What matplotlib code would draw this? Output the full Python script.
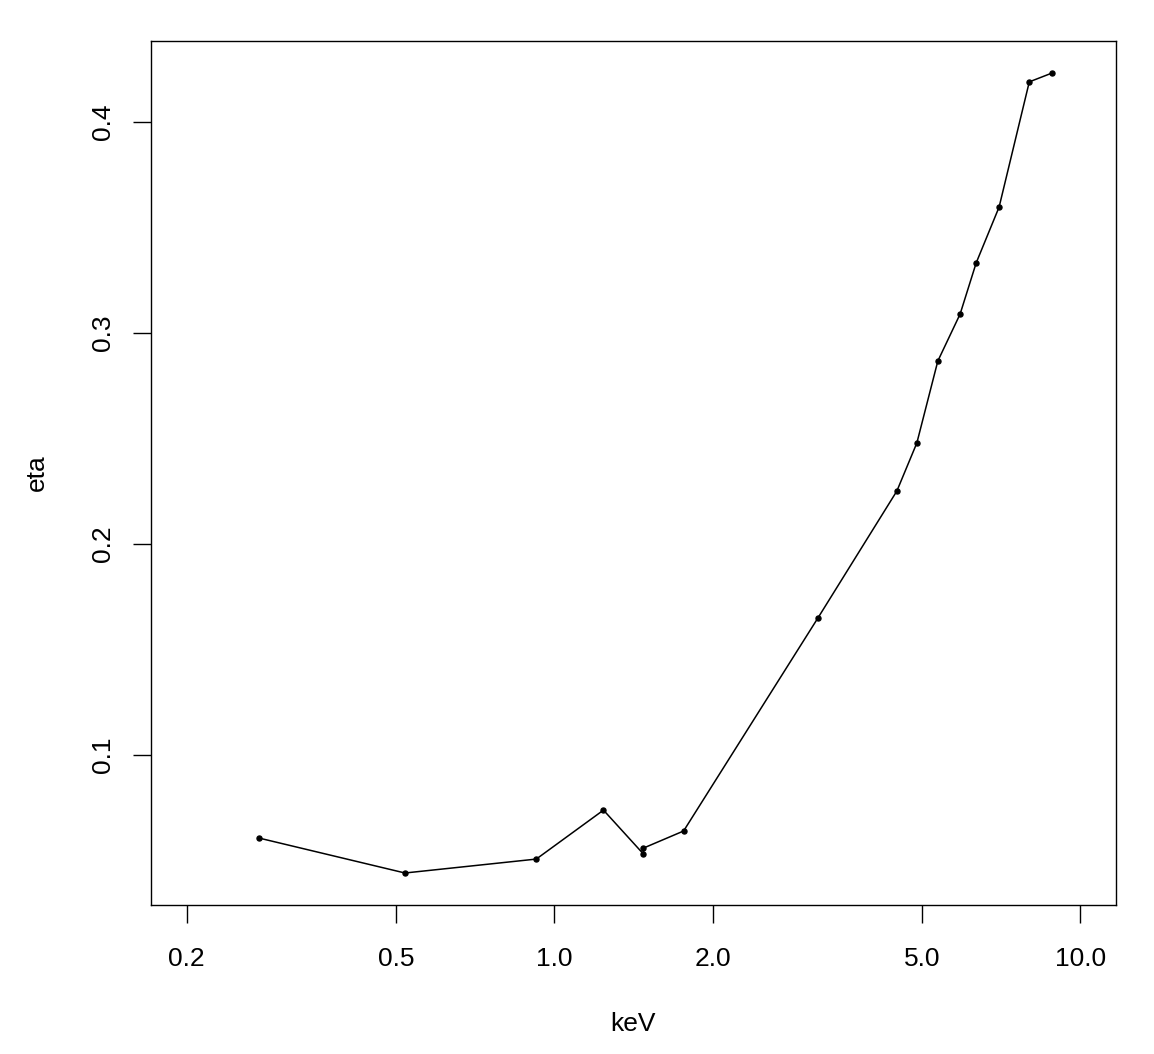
import matplotlib
matplotlib.use("Agg")
import matplotlib.pyplot as plt
import numpy as np

plt.rcParams['font.family'] = ['Liberation Sans', 'DejaVu Sans']

# energies (keV) and eta values
kev = [0.274, 0.520, 0.924, 1.240, 1.477, 1.477, 1.761, 3.17, 4.48, 4.89,
       5.36, 5.91, 6.34, 7.01, 8.00, 8.84]
eta = [0.0607, 0.0441, 0.0507, 0.0739, 0.0531, 0.0559, 0.0640, 0.1649, 0.2251,
       0.2479, 0.2867, 0.3090, 0.3332, 0.3597, 0.4190, 0.4232]

xticks = [0.2, 0.5, 1.0, 2.0, 5.0, 10.0]
xlabels = ["0.2", "0.5", "1.0", "2.0", "5.0", "10.0"]
yticks = [0.1, 0.2, 0.3, 0.4]
ylabels = ["0.1", "0.2", "0.3", "0.4"]

W, H = 1154, 1054
fig = plt.figure(figsize=(W / 100, H / 100), dpi=100)
ax = fig.add_axes([151 / W, 1 - 905 / H, (1116 - 151) / W, (905 - 41) / H])

ax.plot(kev, eta, color='black', lw=1.1, marker='o', ms=3.6)

ax.set_xscale('log')
# R style: 4% padding on each side
lx = np.log10([0.2, 10.0])
dx = 0.04 * (lx[1] - lx[0])
ax.set_xlim(10 ** (lx[0] - dx), 10 ** (lx[1] + dx))
dy = 0.04 * (max(eta) - min(eta))
ax.set_ylim(min(eta) - dy, max(eta) + dy)

ax.set_xticks(xticks)
ax.set_xticklabels(xlabels)
ax.xaxis.set_minor_locator(matplotlib.ticker.NullLocator())
ax.set_yticks(yticks)
ax.set_yticklabels(ylabels, rotation=90, va='center')

ax.tick_params(axis='both', direction='out', length=13, width=1.0,
               labelsize=19, color='black')
ax.tick_params(axis='x', pad=17)
ax.tick_params(axis='y', pad=13)
for s in ax.spines.values():
    s.set_linewidth(1.0)

ax.set_xlabel("keV", fontsize=19, va='center')
ax.xaxis.set_label_coords(0.5, (905 - 1024) / 864)
ax.set_ylabel("eta", fontsize=19, va='center')
ax.yaxis.set_label_coords((37 - 151) / 965, 0.5)

fig.savefig("out.png", dpi=100)
